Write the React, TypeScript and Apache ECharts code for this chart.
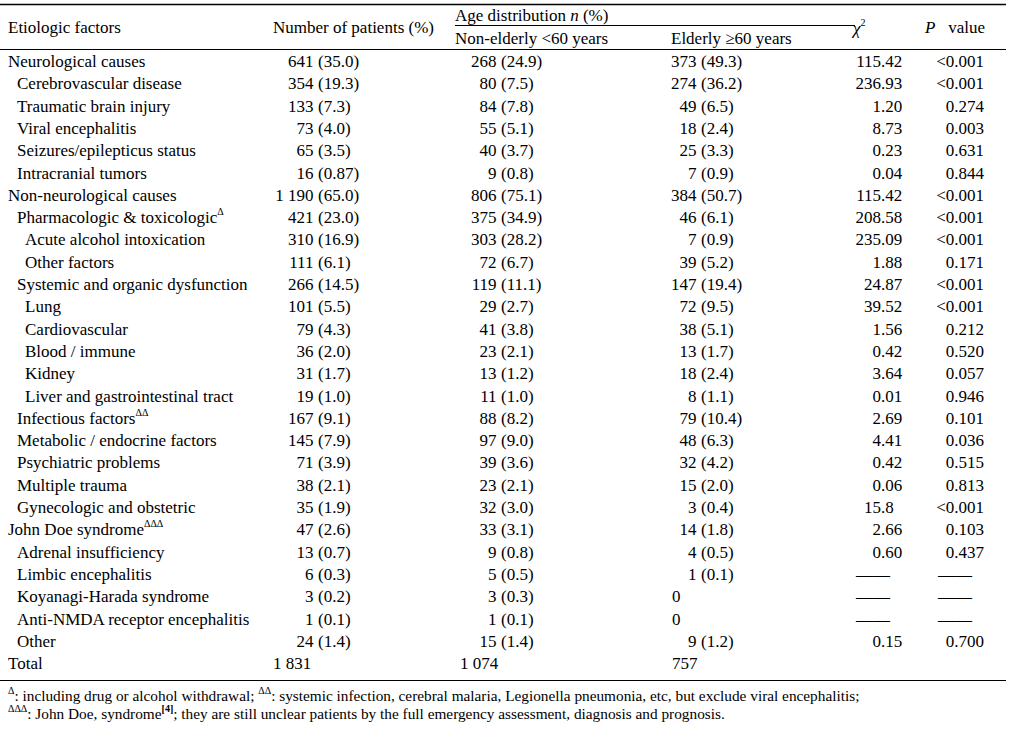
import React, { useEffect, useRef } from "react";
import * as echarts from "echarts";

const FAMILY = "Liberation Serif, Times New Roman, serif";
const FS = 17;
const fnt = (size: number, pre = "") => `${pre}${size}px ${FAMILY}`;

const rowLabels = [
  "Neurological causes",
  "Cerebrovascular disease",
  "Traumatic brain injury",
  "Viral encephalitis",
  "Seizures/epilepticus status",
  "Intracranial tumors",
  "Non-neurological causes",
  "Pharmacologic & toxicologic",
  "Acute alcohol intoxication",
  "Other factors",
  "Systemic and organic dysfunction",
  "Lung",
  "Cardiovascular",
  "Blood / immune",
  "Kidney",
  "Liver and gastrointestinal tract",
  "Infectious factors",
  "Metabolic / endocrine factors",
  "Psychiatric problems",
  "Multiple trauma",
  "Gynecologic and obstetric",
  "John Doe syndrome",
  "Adrenal insufficiency",
  "Limbic encephalitis",
  "Koyanagi-Harada syndrome",
  "Anti-NMDA receptor encephalitis",
  "Other",
  "Total",
];
const rowLevels = [0, 1, 1, 1, 1, 1, 0, 1, 2, 2, 1, 2, 2, 2, 2, 2, 1, 1, 1, 1, 1, 0, 1, 1, 1, 1, 1, 0];
const rowMarks = ["", "", "", "", "", "", "", "Δ", "", "", "", "", "", "", "", "", "ΔΔ", "", "", "", "", "ΔΔΔ", "", "", "", "", "", ""];
const patients = [
  "641 (35.0)", "354 (19.3)", "133 (7.3)", "73 (4.0)", "65 (3.5)", "16 (0.87)",
  "1 190 (65.0)", "421 (23.0)", "310 (16.9)", "111 (6.1)", "266 (14.5)", "101 (5.5)",
  "79 (4.3)", "36 (2.0)", "31 (1.7)", "19 (1.0)", "167 (9.1)", "145 (7.9)",
  "71 (3.9)", "38 (2.1)", "35 (1.9)", "47 (2.6)", "13 (0.7)", "6 (0.3)",
  "3 (0.2)", "1 (0.1)", "24 (1.4)", "1 831",
];
const nonElderly = [
  "268 (24.9)", "80 (7.5)", "84 (7.8)", "55 (5.1)", "40 (3.7)", "9 (0.8)",
  "806 (75.1)", "375 (34.9)", "303 (28.2)", "72 (6.7)", "119 (11.1)", "29 (2.7)",
  "41 (3.8)", "23 (2.1)", "13 (1.2)", "11 (1.0)", "88 (8.2)", "97 (9.0)",
  "39 (3.6)", "23 (2.1)", "32 (3.0)", "33 (3.1)", "9 (0.8)", "5 (0.5)",
  "3 (0.3)", "1 (0.1)", "15 (1.4)", "1 074",
];
const elderly = [
  "373 (49.3)", "274 (36.2)", "49 (6.5)", "18 (2.4)", "25 (3.3)", "7 (0.9)",
  "384 (50.7)", "46 (6.1)", "7 (0.9)", "39 (5.2)", "147 (19.4)", "72 (9.5)",
  "38 (5.1)", "13 (1.7)", "18 (2.4)", "8 (1.1)", "79 (10.4)", "48 (6.3)",
  "32 (4.2)", "15 (2.0)", "3 (0.4)", "14 (1.8)", "4 (0.5)", "1 (0.1)",
  "0", "0", "9 (1.2)", "757",
];
const chiSquare = [
  "115.42", "236.93", "1.20", "8.73", "0.23", "0.04",
  "115.42", "208.58", "235.09", "1.88", "24.87", "39.52",
  "1.56", "0.42", "3.64", "0.01", "2.69", "4.41",
  "0.42", "0.06", "15.8", "2.66", "0.60", "——",
  "——", "——", "0.15", "",
];
const pValues = [
  "<0.001", "<0.001", "0.274", "0.003", "0.631", "0.844",
  "<0.001", "<0.001", "<0.001", "0.171", "<0.001", "<0.001",
  "0.212", "0.520", "0.057", "0.946", "0.101", "0.036",
  "0.515", "0.813", "<0.001", "0.103", "0.437", "——",
  "——", "——", "0.700", "",
];

const footnote1 = [
  ["s", "Δ"], ["f", ": including drug or alcohol withdrawal; "], ["s", "ΔΔ"],
  ["f", ": systemic infection, cerebral malaria, Legionella pneumonia, etc, but exclude viral encephalitis;"],
];
const footnote2 = [
  ["s", "ΔΔΔ"], ["f", ": John Doe, syndrome"], ["sb", "[4]"],
  ["f", "; they are still unclear patients by the full emergency assessment, diagnosis and prognosis."],
];

// layout
const indentX = [8, 17, 25];
const parenX = [318, 501, 701];
const plainX = [273, 460, 672];
const chiDotX = 881;
const dashX = [873, 955];
const pRightX = 984;

const baseRich = {
  m: { font: fnt(FS), lineHeight: 22, fill: "#000" },
  i: { font: fnt(FS, "italic "), lineHeight: 22, fill: "#000" },
  s: { font: fnt(10), verticalAlign: "top", lineHeight: 10, fill: "#000" },
  f: { font: fnt(15.3), lineHeight: 19, fill: "#000" },
  sb: { font: fnt(10, "bold "), verticalAlign: "top", lineHeight: 10, fill: "#000" },
};

const esc = (t: string) => t.replace(/[{}|]/g, "");
const richStr = (parts: string[][]) => parts.map(([k, t]) => `{${k}|${esc(t)}}`).join("");

function txt(text: string, x: number, y: number, align: string, extra: any = {}) {
  return {
    type: "text",
    style: {
      text,
      x,
      y,
      align,
      verticalAlign: "middle",
      font: fnt(FS),
      fill: "#000",
      ...extra,
    },
  };
}

function pctCell(s: string, col: number, y: number) {
  const k = s.indexOf(" (");
  if (k < 0) return [txt(s, plainX[col], y, "left")];
  return [
    txt(s.slice(0, k), parenX[col] - 4.5, y, "right"),
    txt(s.slice(k + 1), parenX[col], y, "left"),
  ];
}

function chiCell(s: string, y: number) {
  if (!s) return [];
  if (s.startsWith("—")) return [txt(s, dashX[0], y, "center")];
  const k = s.indexOf(".");
  return [txt(s.slice(0, k), chiDotX, y, "right"), txt(s.slice(k), chiDotX, y, "left")];
}

function pCell(s: string, y: number) {
  if (!s) return [];
  if (s.startsWith("—")) return [txt(s, dashX[1], y, "center")];
  return [txt(s, pRightX, y, "right")];
}

export default function App() {
  const ref = useRef<HTMLDivElement>(null);
  useEffect(() => {
    if (!ref.current) return;
    const chart = echarts.init(ref.current, undefined, { renderer: "svg" });
    const lineStyle = { stroke: "#000", lineWidth: 1 };
    const option: any = {
      animation: false,
      backgroundColor: "#fff",
      grid: { left: 0, top: 50.35, width: 1016, height: 624.4, containLabel: false },
      xAxis: { type: "value", min: 0, max: 1016, show: false },
      yAxis: { type: "category", data: rowLabels, inverse: true, show: false },
      series: [
        {
          type: "custom",
          coordinateSystem: "cartesian2d",
          data: rowLabels.map((_, i) => [0, i]),
          renderItem: (_params: any, api: any) => {
            const i = api.value(1) as number;
            const y = api.coord([0, i])[1];
            const mark = rowMarks[i];
            const label = mark
              ? richStr([["m", rowLabels[i]], ["s", mark]])
              : richStr([["m", rowLabels[i]]]);
            const children: any[] = [
              txt(label, indentX[rowLevels[i]], y, "left", { rich: baseRich }),
              ...pctCell(patients[i], 0, y),
              ...pctCell(nonElderly[i], 1, y),
              ...pctCell(elderly[i], 2, y),
              ...chiCell(chiSquare[i], y),
              ...pCell(pValues[i], y),
            ];
            return { type: "group", children };
          },
        },
      ],
      graphic: [
        { type: "line", shape: { x1: 0, y1: 4.5, x2: 1006, y2: 4.5 }, style: { stroke: "#000", lineWidth: 1.5 } },
        { type: "line", shape: { x1: 455, y1: 25.5, x2: 855, y2: 25.5 }, style: lineStyle },
        { type: "line", shape: { x1: 0, y1: 49.5, x2: 1006, y2: 49.5 }, style: lineStyle },
        { type: "line", shape: { x1: 0, y1: 680.5, x2: 1006, y2: 680.5 }, style: lineStyle },
        txt("Etiologic factors", 8, 27, "left"),
        txt("Number of patients (%)", 273, 27, "left"),
        txt(richStr([["m", "Age distribution "], ["i", "n"], ["m", " (%)"]]), 455, 15, "left", { rich: baseRich }),
        txt("Non-elderly <60 years", 455, 38, "left"),
        txt("Elderly ≥60 years", 671, 38, "left"),
        txt(richStr([["i", "χ"], ["s", "2"]]), 853, 28, "left", { rich: baseRich }),
        txt(richStr([["i", "P"], ["m", "   value"]]), 925, 27, "left", { rich: baseRich }),
        txt(richStr(footnote1), 8, 695, "left", { rich: baseRich }),
        txt(richStr(footnote2), 8, 713, "left", { rich: baseRich }),
      ],
    };
    chart.setOption(option);
    return () => chart.dispose();
  }, []);
  return (
    <div
      ref={ref}
      style={{ position: "absolute", left: 0, top: 0, width: 1016, height: 731, background: "#fff" }}
    />
  );
}
